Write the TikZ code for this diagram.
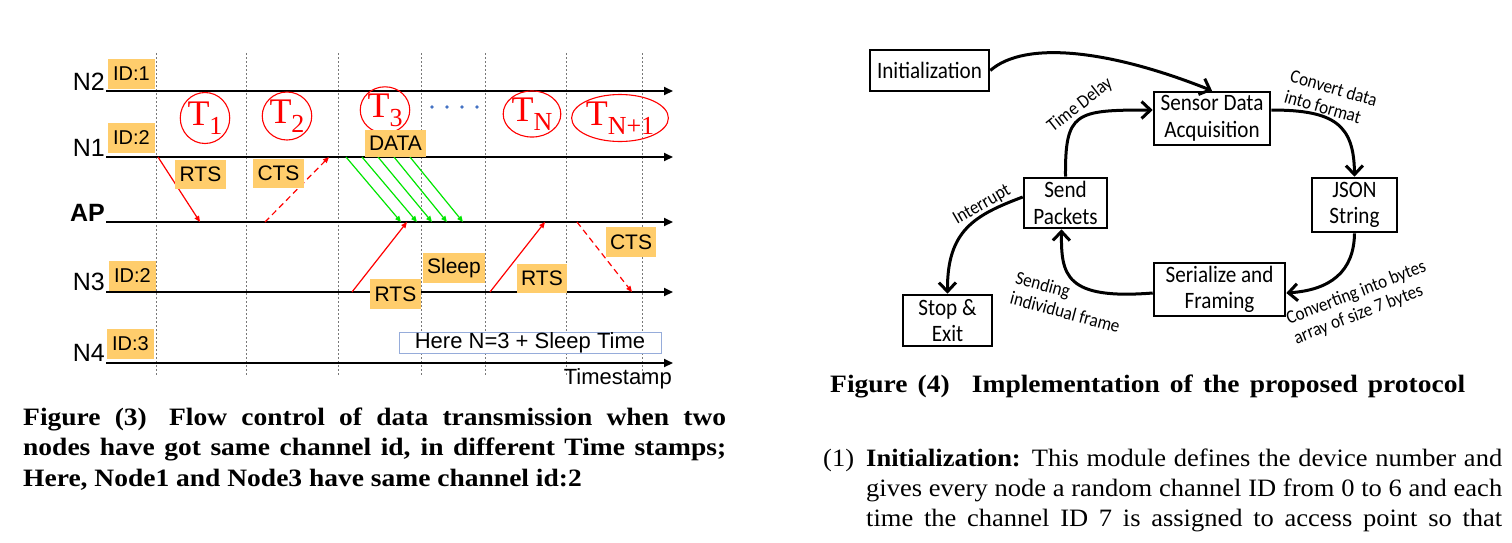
\documentclass[tikz,border=0pt]{standalone}
\usepackage{fontspec}
\setmainfont{Liberation Serif}
\newfontfamily\arialf{Liberation Sans}
\newfontfamily\calf[FakeStretch=0.9]{Carlito}
\newfontfamily\capf[FakeStretch=1.1]{Liberation Serif}
\newfontfamily\bodyf[FakeStretch=1.06]{Liberation Serif}
\usetikzlibrary{arrows.meta,shapes.geometric}
\definecolor{idorange}{RGB}{255,205,108}
\definecolor{tgreen}{RGB}{0,230,0}
\definecolor{dotblue}{RGB}{68,114,196}
\definecolor{herebd}{RGB}{150,172,218}
\definecolor{vgray}{RGB}{120,120,120}
\newcommand\fsz[2]{\fontsize{#1pt}{#2pt}\selectfont}
\newcommand\Tlab[1]{{\fsz{36}{36}T}\raisebox{-9pt}{\fsz{26}{26}#1}}
\begin{document}
\begin{tikzpicture}[x=1pt,y=-1pt,
  tline/.style={line width=2pt,-{Triangle[length=9pt,width=8pt]}},
  vdash/.style={vgray,line width=0.6pt,dash pattern=on 2pt off 2pt},
  idbox/.style={fill=idorange,inner sep=0pt,minimum width=47pt,minimum height=30pt,font=\arialf\fsz{20}{20}},
  msgbox/.style={fill=idorange,inner sep=0pt,minimum height=29pt,font=\arialf\fsz{21}{21}},
  rowlab/.style={anchor=base east,inner sep=0pt,font=\arialf\fsz{25}{25}},
  tell/.style={ellipse,draw=red,line width=1.1pt,text=red,inner sep=0pt},
  rmsg/.style={red,line width=1.2pt,-{Triangle[length=6pt,width=5pt]}},
  rdash/.style={rmsg,dash pattern=on 6pt off 4pt},
  gmsg/.style={draw=tgreen,line width=1.2pt,-{Triangle[length=6pt,width=5pt]}},
  fbox/.style={draw,line width=2.6pt,align=center,inner sep=0pt,font=\calf\fsz{23.5}{26.5}},
  farrow/.style={line width=3pt,-{Straight Barb[length=9pt,width=17pt]}},
  flab/.style={font=\calf\fsz{19}{21},inner sep=0pt},
  captxt/.style={anchor=base west,inner sep=0pt,font=\capf\bfseries\fsz{25}{25}},
  bodytxt/.style={anchor=base west,inner sep=0pt,font=\bodyf\fsz{25}{25}},
]
\useasboundingbox (0,0) rectangle (1512,542);
\fill[white] (0,0) rectangle (1512,542);

% ---------- Figure 3 ----------
\foreach \x in {156,246,338,421,485,566,642} \draw[vdash] (\x,53) -- (\x,376);

\foreach \n/\y in {n2/91,n1/157,ap/222,n3/292,n4/363}{
  \coordinate (\n s) at (106,\y);
  \coordinate (\n e) at (673,\y);
}
\draw[tline] (n2s) -- (n2e);
\draw[tline] (n1s) -- (n1e);
\draw[tline] (aps) -- (ape);
\draw[tline] (n3s) -- (n3e);
\draw[tline] (n4s) -- (n4e);

\node[rowlab] (ln2) at (105,90) {N2};
\node[rowlab] (ln1) at (105,156) {N1};
\node[rowlab,font=\arialf\bfseries\fsz{25}{25}] (lap) at (105,221) {AP};
\node[rowlab] (ln3) at (105,290) {N3};
\node[rowlab] (ln4) at (105,361) {N4};

\node[idbox] (id1) at (131.5,74) {ID:1};
\node[idbox] (id2) at (131.5,138) {ID:2};
\node[idbox] (id3) at (132.5,276) {ID:2};
\node[idbox] (id4) at (130.5,344) {ID:3};

\node[tell,minimum width=46pt,minimum height=51pt] (t1) at (205,118) {\Tlab{1}};
\node[tell,minimum width=46pt,minimum height=48pt] (t2) at (287,116) {\Tlab{2}};
\node[tell,minimum width=46pt,minimum height=41pt] (t3) at (385,110) {\Tlab{3}};
\node[tell,minimum width=48pt,minimum height=45pt] (tn) at (532,114) {\Tlab{N}};
\node[tell,minimum width=77pt,minimum height=47pt] (tn1) at (620,118) {\Tlab{N+1}};
\foreach \x in {432,447,462,477} \fill[dotblue] (\x,107) circle (1.8pt);

% message end points
\coordinate (r1a) at (158,157); \coordinate (r1b) at (200,222);
\coordinate (c1a) at (265,222); \coordinate (c1b) at (329,157);
\coordinate (r2a) at (352,292); \coordinate (r2b) at (407,222);
\coordinate (r3a) at (490,292); \coordinate (r3b) at (545,222);
\coordinate (c2a) at (577,222); \coordinate (c2b) at (632,292);
\foreach \i/\xa/\xb in {1/346/401,2/362/417,3/378/432,4/394/447,5/410/463}{
  \coordinate (g\i a) at (\xa,157); \coordinate (g\i b) at (\xb,222);
  \draw[gmsg] (g\i a) -- (g\i b);
}
\draw[rmsg] (r1a) -- (r1b);
\draw[rdash] (c1a) -- (c1b);
\draw[rmsg] (r2a) -- (r2b);
\draw[rmsg] (r3a) -- (r3b);
\draw[rdash] (c2a) -- (c2b);

\node[msgbox,minimum width=51pt] (rts1) at (200.5,174.5) {RTS};
\node[msgbox,minimum width=51pt] (cts1) at (278.5,173.5) {CTS};
\node[msgbox,minimum width=61pt,minimum height=27pt] (data) at (395.5,143.5) {DATA};
\node[msgbox,minimum width=51pt,minimum height=30pt] (rts2) at (395.5,294) {RTS};
\node[msgbox,minimum width=62pt,minimum height=30pt] (sleep) at (454,268) {Sleep};
\node[msgbox,minimum width=50pt] (rts3) at (542,278.5) {RTS};
\node[msgbox,minimum width=50pt,minimum height=30pt] (cts2) at (631,242) {CTS};

\node[draw=herebd,fill=white,line width=0.8pt,minimum width=262pt,minimum height=21pt,inner sep=0pt,font=\arialf\fsz{22}{22}] (here) at (530,342.5) {Here N=3 + Sleep Time};
\node[anchor=base east,inner sep=0pt,font=\arialf\fsz{22}{22}] (ts) at (672,384) {Timestamp};

\node[captxt] (cap3a) at (23,425) {\makebox[703pt][s]{Figure (3)\hspace{8pt} Flow control of data transmission when two}};
\node[captxt] (cap3b) at (23,455) {\makebox[703pt][s]{nodes have got same channel id, in different Time stamps;}};
\node[captxt] (cap3c) at (23,486) {Here, Node1 and Node3 have same channel id:2};

% ---------- Figure 4 ----------
\node[fbox,minimum width=119pt,minimum height=41pt] (init) at (929.5,70.5) {Initialization};
\node[fbox,minimum width=116pt,minimum height=53pt] (sensor) at (1212,118.5) {Sensor Data\\Acquisition};
\node[fbox,minimum width=85pt,minimum height=54pt] (json) at (1354.5,205) {JSON\\String};
\node[fbox,minimum width=131pt,minimum height=53pt] (serial) at (1219.5,289.5) {Serialize and\\Framing};
\node[fbox,minimum width=83pt,minimum height=50pt] (send) at (1065.5,203) {Send\\Packets};
\node[fbox,minimum width=89pt,minimum height=51pt] (stop) at (947.5,320.5) {Stop \&\\Exit};

\draw[farrow] (init.east) .. controls (1025,40) and (1110,50) .. (sensor.north);
\draw[farrow] (send.north) .. controls (1065,112) and (1075,110) .. ([yshift=8.5pt]sensor.west);
\draw[farrow] ([yshift=8.5pt]sensor.east) .. controls (1335,110) and (1354,125) .. (json.north);
\draw[farrow] (json.south) .. controls (1354,272) and (1330,290) .. ([yshift=-3.5pt]serial.east);
\draw[farrow] ([yshift=-3.5pt]serial.west) .. controls (1065,300) and (1061,275) .. ([xshift=-4pt]send.south);
\draw[farrow] ([yshift=6pt]send.west) .. controls (975,215) and (947,230) .. (stop.north);

\node[flab,rotate=38] (ltd) at (1080,105) {Time Delay};
\node[flab,rotate=-16,align=left] (lcv) at (1331,98) {Convert data\\into format};
\node[flab,rotate=21,align=left] (lcb) at (1360,303) {Converting into bytes\\array of size 7 bytes};
\node[flab,rotate=-15,align=left] (lsf) at (1068,302) {Sending\\individual frame};
\node[flab,rotate=30] (lint) at (982,205) {Interrupt};

\node[captxt] (cap4) at (830,392) {\makebox[635pt][s]{Figure (4)\hspace{12pt} Implementation of the proposed protocol}};

\node[bodytxt] (p1n) at (823,466) {(1)};
\node[bodytxt] (p1a) at (866,466) {\makebox[636pt][s]{\textbf{Initialization:} This module defines the device number and}};
\node[bodytxt] (p1b) at (866,496) {\makebox[636pt][s]{gives every node a random channel ID from 0 to 6 and each}};
\node[bodytxt] (p1c) at (866,526) {\makebox[636pt][s]{time the channel ID 7 is assigned to access point so that}};
\end{tikzpicture}
\end{document}
